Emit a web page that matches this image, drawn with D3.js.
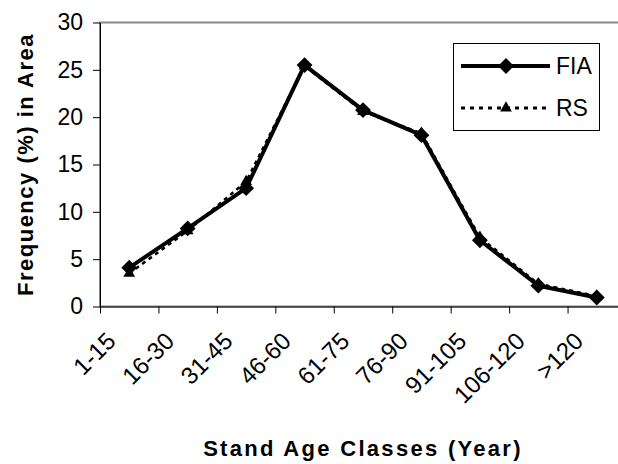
<!DOCTYPE html>
<html>
<head>
<meta charset="utf-8">
<script src="https://cdn.jsdelivr.net/npm/d3@7"></script>
<style>
  body { margin: 0; background: #fff; }
  text { font-family: "Liberation Sans", Arial, sans-serif; fill: #000; }
</style>
</head>
<body>
<svg width="618" height="464"></svg>
<script>
// age classes and the two series (percent of area)
var categories = ["1-15", "16-30", "31-45", "46-60", "61-75", "76-90", "91-105", "106-120", ">120"];
var fiaValues = [4.1, 8.25, 12.5, 25.5, 20.75, 18.1, 7.0, 2.2, 0.95];
var rsValues = [3.5, 8.0, 13.2, 25.4, 20.6, 18.3, 7.3, 2.4, 1.1];
var yTicks = [0, 5, 10, 15, 20, 25, 30];
var seriesNames = ["FIA", "RS"];

var svg = d3.select("svg"),
    plotLeft = 100, plotRight = 626, plotTop = 22.5, plotBottom = 306.5;

var x = d3.scaleBand().domain(categories).range([plotLeft, plotRight]);
var xEdge = d3.scaleLinear().domain([0, categories.length]).range([plotLeft, plotRight]);
var y = d3.scaleLinear().domain([0, 30]).range([plotBottom, plotTop]);

// plot area border (grey, runs off the right side of the picture)
svg.append("rect")
    .attr("x", plotLeft).attr("y", plotTop)
    .attr("width", plotRight - plotLeft).attr("height", plotBottom - plotTop)
    .attr("fill", "none").attr("stroke", "#888").attr("stroke-width", 2);

// y axis
var yAxis = svg.append("g")
    .attr("transform", "translate(" + plotLeft + ",0)")
    .call(d3.axisLeft(y).tickValues(yTicks).tickSize(7).tickPadding(10).tickSizeOuter(0));
yAxis.select(".domain").attr("stroke", "#000");
yAxis.selectAll("text").style("font-size", "23px").attr("font-family", null);

// x axis: ticks on category boundaries
var xAxis = svg.append("g")
    .attr("transform", "translate(0," + plotBottom + ")")
    .call(d3.axisBottom(xEdge).tickValues(d3.range(categories.length + 1)).tickFormat("").tickSize(7).tickSizeOuter(0));
xAxis.select(".domain").attr("stroke", "#000");

// rotated category labels
svg.append("g").selectAll("text")
    .data(categories)
    .enter().append("text")
    .attr("text-anchor", "end")
    .attr("transform", function (d) {
        return "translate(" + (x(d) + x.bandwidth() / 2 - 12) + "," + (plotBottom + 36) + ") rotate(-45)";
    })
    .style("font-size", "24px")
    .text(function (d) { return d; });

// axis titles
svg.append("text")
    .attr("x", (plotLeft + plotRight) / 2).attr("y", 456)
    .attr("text-anchor", "middle")
    .style("font-size", "22px").style("font-weight", "bold").style("letter-spacing", "2.3px")
    .text("Stand Age Classes (Year)");

svg.append("text")
    .attr("transform", "translate(33," + ((plotTop + plotBottom) / 2) + ") rotate(-90)")
    .attr("text-anchor", "middle")
    .style("font-size", "22px").style("font-weight", "bold").style("letter-spacing", "1.5px")
    .text("Frequency (%) in Area");

var line = d3.line()
    .x(function (d, i) { return x(categories[i]) + x.bandwidth() / 2; })
    .y(function (d) { return y(d); });

var diamond = d3.symbol().type(d3.symbolDiamond2).size(160);
var triangle = d3.symbol().type(d3.symbolTriangle).size(60);

// FIA series
svg.append("path")
    .datum(fiaValues)
    .attr("d", line)
    .attr("fill", "none").attr("stroke", "#000").attr("stroke-width", 4)
    .attr("stroke-linejoin", "round");

svg.append("g").selectAll("path")
    .data(fiaValues)
    .enter().append("path")
    .attr("d", diamond)
    .attr("transform", function (d, i) {
        return "translate(" + (x(categories[i]) + x.bandwidth() / 2) + "," + y(d) + ")";
    })
    .attr("fill", "#000");

// RS series
svg.append("path")
    .datum(rsValues)
    .attr("d", line)
    .attr("fill", "none").attr("stroke", "#000").attr("stroke-width", 2.5)
    .attr("stroke-dasharray", "4,4");

svg.append("g").selectAll("path")
    .data(rsValues)
    .enter().append("path")
    .attr("d", triangle)
    .attr("transform", function (d, i) {
        return "translate(" + (x(categories[i]) + x.bandwidth() / 2) + "," + y(d) + ")";
    })
    .attr("fill", "#000");

// legend
var legend = svg.append("g");
legend.append("rect")
    .attr("x", 453.5).attr("y", 43.5).attr("width", 146).attr("height", 87)
    .attr("fill", "#fff").attr("stroke", "#000").attr("stroke-width", 1);

var rows = legend.selectAll("g.row")
    .data(seriesNames)
    .enter().append("g")
    .attr("class", "row")
    .attr("transform", function (d, i) { return "translate(0," + (66 + i * 42) + ")"; });

rows.append("line")
    .attr("x1", 461).attr("x2", 550).attr("y1", 0).attr("y2", 0)
    .attr("stroke", "#000")
    .attr("stroke-width", function (d, i) { return i === 0 ? 4 : 3; })
    .attr("stroke-dasharray", function (d, i) { return i === 0 ? null : "4,5"; });

rows.append("path")
    .attr("d", function (d, i) { return i === 0 ? diamond() : triangle(); })
    .attr("transform", "translate(506,0)")
    .attr("fill", "#000");

rows.append("text")
    .attr("x", 556).attr("dy", "0.36em")
    .style("font-size", "23px")
    .text(function (d) { return d; });
</script>
</body>
</html>
